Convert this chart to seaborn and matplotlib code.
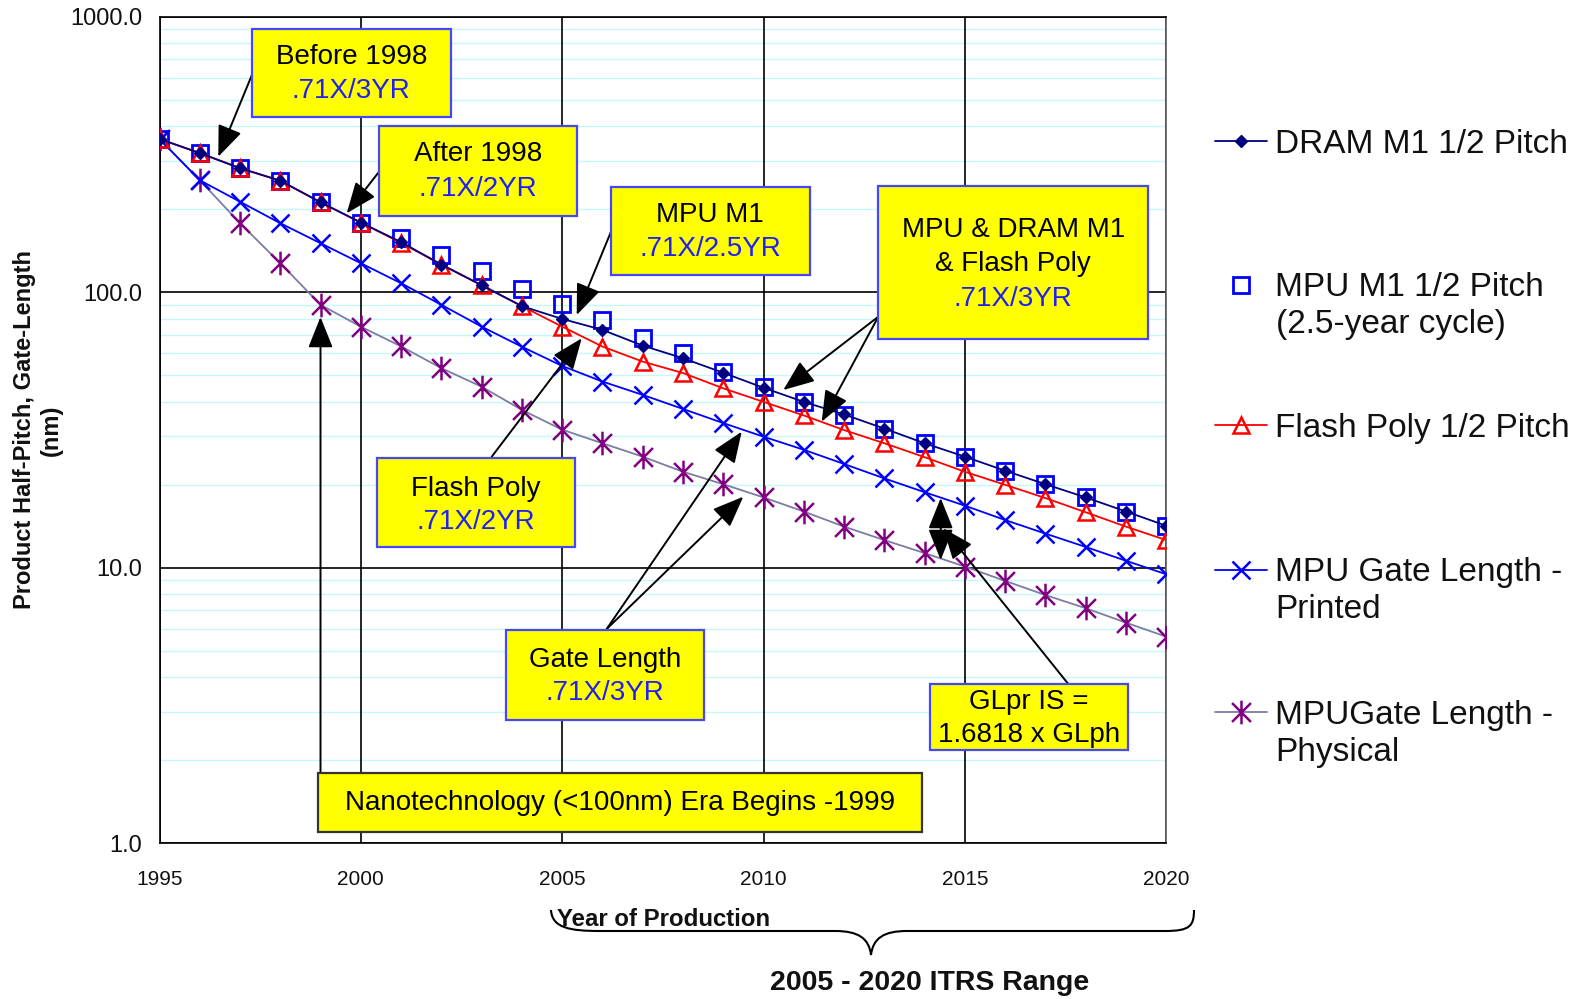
import numpy as np
import pandas as pd
import matplotlib
matplotlib.use("Agg")
import matplotlib.pyplot as plt
import seaborn as sns
from matplotlib.path import Path
from matplotlib.patches import PathPatch, Rectangle
from matplotlib.lines import Line2D
from matplotlib.ticker import FixedLocator, FuncFormatter, LogLocator, NullFormatter

sns.set_theme(style="white")
plt.rcParams['font.family'] = ['Liberation Sans', 'DejaVu Sans']

# ====================== DATA ======================
years = list(range(1995, 2021))
dram_m1 = [360, 320, 282, 254, 212, 179, 152, 126, 106, 89, 80, 73, 64, 57.6, 51, 45,
           40, 36, 32, 28.3, 25.3, 22.5, 20.1, 18, 16, 14.2]
mpu_m1 = [360, 320, 282, 254, 212, 179, 157, 137, 119, 103, 90.7, 79.3, 68, 60, 51.5, 45.2,
          40.1, 35.9, 31.8, 28.3, 25.3, 22.5, 20.1, 18, 16, 14.2]
flash_poly = [360, 320, 282, 254, 212, 179, 151, 126, 106, 89, 75, 63.5, 56, 50.9, 44.8, 40,
              35.7, 31.6, 28.3, 25.2, 22.3, 20, 17.9, 15.9, 14.1, 12.6]
gate_printed = [360, 255, 213, 178, 150.6, 127.4, 107.8, 90, 75, 63.4, 54, 47.4, 42.4, 37.7, 33.5, 29.9,
                26.8, 23.8, 21.1, 18.8, 16.8, 14.9, 13.3, 11.9, 10.6, 9.47]
gate_physical = [360, 255, 178, 127.4, 90, 75, 63.6, 53, 45.4, 37.4, 31.7, 28.3, 25.3, 22.3, 20.1, 18,
                 16, 14.1, 12.6, 11.3, 10.1, 8.96, 7.96, 7.13, 6.32, 5.62]

legend_labels = [
    ["DRAM M1 1/2 Pitch"],
    ["MPU M1 1/2 Pitch", "(2.5-year cycle)"],
    ["Flash Poly 1/2 Pitch"],
    ["MPU Gate Length -", "Printed"],
    ["MPUGate Length -", "Physical"],
]
y_ticks = [1, 10, 100, 1000]
x_ticks = [1995, 2000, 2005, 2010, 2015, 2020]

# ====================== STYLES ======================
NAVY = '#000080'
BLUE = '#0000ff'
RED = '#ff0000'
PURPLE = '#800080'
GREY_LINE = '#7c7ca4'
TXT_BLUE = '#2020f0'
BOX_EDGE = '#4646ff'
YELLOW = '#ffff00'

# excel-like star: an X with a vertical bar through it
star = Path([(-1, -1), (1, 1), (-1, 1), (1, -1), (0, -1.25), (0, 1.25)],
            [Path.MOVETO, Path.LINETO, Path.MOVETO, Path.LINETO, Path.MOVETO, Path.LINETO])

styles = [
    dict(color=NAVY, lw=1.3, marker='D', markersize=6.5, mfc=NAVY, mec=NAVY, mew=1),
    dict(color=BLUE, lw=0, linestyle='none', marker='s', markersize=11.5, mfc='none', mec=BLUE, mew=2),
    dict(color=RED, lw=1.3, marker='^', markersize=11.5, mfc='none', mec=RED, mew=1.8),
    dict(color=BLUE, lw=1.3, marker='x', markersize=12.5, mfc=BLUE, mec=BLUE, mew=1.8),
    dict(color=GREY_LINE, lw=1.3, marker=star, markersize=17, mfc=PURPLE, mec=PURPLE, mew=1.8),
]

W, H = 1585, 999
fig = plt.figure(figsize=(W / 100, H / 100), dpi=100)
ax = fig.add_axes([159.5 / W, 1 - 843.3 / H, 1006.8 / W, 826.6 / H])

# ====================== SERIES ======================
df = pd.DataFrame({'year': years, 'dram': dram_m1, 'mpu': mpu_m1, 'flash': flash_poly,
                   'printed': gate_printed, 'physical': gate_physical})
draw_order = [('mpu', 1, 3), ('physical', 4, 4), ('printed', 3, 5), ('flash', 2, 6), ('dram', 0, 7)]
for col, si, z in draw_order:
    kw = dict(styles[si])
    sns.lineplot(data=df, x='year', y=col, ax=ax, zorder=z, **kw)

ax.set_yscale('log')
ax.set_ylim(1, 1000)
ax.set_xlim(1995, 2020)
ax.yaxis.set_major_locator(FixedLocator(y_ticks))
ax.yaxis.set_major_formatter(FuncFormatter(lambda v, p: f'{v:.1f}'))
ax.yaxis.set_minor_locator(LogLocator(base=10, subs=range(2, 10)))
ax.yaxis.set_minor_formatter(NullFormatter())
ax.set_xticks(x_ticks)
ax.set_axisbelow(True)
ax.xaxis.set_zorder(0.6)  # vertical black grid over the cyan minor lines
ax.grid(which='minor', axis='y', color='#c4f8fa', lw=1.0, linestyle='-')
ax.grid(which='major', color='black', lw=1.2, linestyle='-')
ax.tick_params(axis='y', which='major', direction='out', length=6.5, width=1.2, color='black',
               labelsize=17, pad=6, labelcolor='#111111')
ax.tick_params(axis='x', which='major', direction='out', length=6.5, width=1.2, color='black',
               labelsize=15, pad=13, labelcolor='#111111')
ax.tick_params(which='minor', length=0)
for s in ax.spines.values():
    s.set_color('black')
    s.set_linewidth(1.2)
ax.spines['right'].set_color('#606060')

ax.set_ylabel('Product Half-Pitch, Gate-Length\n(nm)', fontsize=17, fontweight='bold',
              linespacing=1.25, color='#111111')
ax.yaxis.set_label_coords((38 - 159.5) / 1006.8, 0.5)
ax.yaxis.label.set_verticalalignment('center')
ax.set_xlabel('Year of Production', fontsize=17.3, fontweight='bold', color='#111111')
ax.xaxis.set_label_coords((664 - 159.5) / 1006.8, (843.3 - 919) / 826.6)
ax.xaxis.label.set_verticalalignment('center')

# ====================== OVERLAY (pixel coords) ======================
ov = fig.add_axes([0, 0, 1, 1], zorder=5)
ov.set_xlim(0, W)
ov.set_ylim(H, 0)
ov.axis('off')
ov.patch.set_alpha(0)


def note_box(x0, y0, x1, y1, lines, ys, edge=BOX_EDGE):
    ov.add_patch(Rectangle((x0, y0), x1 - x0, y1 - y0, facecolor=YELLOW, edgecolor=edge, lw=1.6, zorder=3))
    cx = (x0 + x1) / 2
    for (txt, col), yy in zip(lines, ys):
        ov.text(cx, yy, txt, ha='center', va='center', fontsize=20, color=col, zorder=4)


def arrow(tail, head, style='-|>'):
    ov.annotate('', xy=head, xytext=tail,
                arrowprops=dict(arrowstyle=style + ',head_length=0.8,head_width=0.32', color='black',
                                lw=1.4, mutation_scale=24, shrinkA=0, shrinkB=0), zorder=2)


note_box(251.7, 29, 451, 117.3, [("Before 1998", 'black'), (".71X/3YR", TXT_BLUE)], [57, 91])
note_box(379.3, 126, 577.3, 215.7, [("After 1998", 'black'), (".71X/2YR", TXT_BLUE)], [154, 189])
note_box(610.7, 186.7, 810, 275, [("MPU M1", 'black'), (".71X/2.5YR", TXT_BLUE)], [215, 249])
note_box(878.3, 186, 1148.3, 339.3, [("MPU & DRAM M1", 'black'), ("& Flash Poly", 'black'),
                                     (".71X/3YR", TXT_BLUE)], [230, 264, 299])
note_box(376.7, 458.3, 575, 547.3, [("Flash Poly", 'black'), (".71X/2YR", TXT_BLUE)], [489, 522])
note_box(505.7, 630, 704, 720, [("Gate Length", 'black'), (".71X/3YR", TXT_BLUE)], [660, 693])
note_box(930, 684, 1128.3, 750, [("GLpr IS =", 'black'), ("1.6818 x GLph", 'black')], [702, 735])
note_box(318.3, 772.7, 921.7, 831.7, [("Nanotechnology (<100nm) Era Begins -1999", 'black')], [803],
         edge='#333333')

arrow((252.3, 74), (218.3, 156.7))
arrow((378.3, 172.7), (346.7, 213.3))
arrow((611.7, 230), (576.7, 315))
arrow((878.3, 316.7), (783.3, 390))
arrow((878.3, 316.7), (821.7, 421.7))
arrow((491.7, 456.7), (581.7, 338.3))
arrow((606.7, 629), (741.7, 431.7))
arrow((606.7, 629), (743.3, 496.7))
arrow((320.5, 772.7), (320.5, 317))
arrow((940.7, 529), (940.7, 498))
arrow((940.7, 529), (940.7, 560))
arrow((1068.3, 684), (943.3, 528.3))

# curly brace under the axis
verts = [(551, 910), (552, 928), (570, 931), (600, 931), (835, 931), (858, 931), (869, 938), (871, 955),
         (873, 938), (884, 931), (907, 931), (1165, 931), (1190, 931), (1194, 926), (1194, 910)]
codes = [Path.MOVETO, Path.CURVE4, Path.CURVE4, Path.CURVE4, Path.LINETO, Path.CURVE4, Path.CURVE4,
         Path.CURVE4, Path.CURVE4, Path.CURVE4, Path.CURVE4, Path.LINETO, Path.CURVE4, Path.CURVE4,
         Path.CURVE4]
ov.add_patch(PathPatch(Path(verts, codes), facecolor='none', edgecolor='black', lw=1.5))
ov.text(930, 983, '2005 - 2020 ITRS Range', ha='center', va='center', fontsize=20.5, fontweight='bold',
        color='#111111')

# ====================== LEGEND ======================
entry_y = [144.5, 288, 428.5, 573, 715.6]
second_y = [None, 324.5, None, 609.5, 752]
for lab, st, y1, y2 in zip(legend_labels, styles, entry_y, second_y):
    h = Line2D([], [], **st)
    fig.legend(handles=[h], labels=[lab[0]], loc='center left', bbox_to_anchor=(1215 / W, 1 - y1 / H),
               frameon=False, fontsize=24, handlelength=1.56, handletextpad=0.24, borderpad=0,
               borderaxespad=0, numpoints=1, labelcolor='#111111')
    if y2 is not None:
        fig.text(1275.6 / W, 1 - y2 / H, lab[1], ha='left', va='center', fontsize=24, color='#111111')

fig.savefig('out.png', dpi=100)
